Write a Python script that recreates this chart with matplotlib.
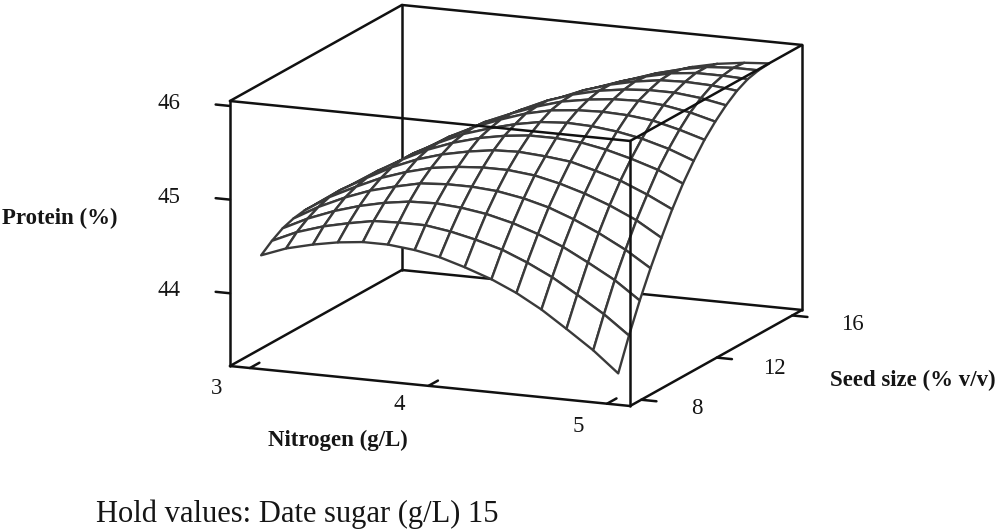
import numpy as np
import matplotlib
matplotlib.use("Agg")
import matplotlib.pyplot as plt

plt.rcParams['font.family'] = ['Liberation Serif', 'DejaVu Serif']

nitrogen = [3.00, 3.14, 3.29, 3.43, 3.57, 3.71, 3.86, 4.00, 4.14, 4.29, 4.43, 4.57, 4.71, 4.86, 5.00]
seed = [8.00, 8.57, 9.14, 9.71, 10.29, 10.86, 11.43, 12.00, 12.57, 13.14, 13.71, 14.29, 14.86, 15.43, 16.00]
# rows go with seed, columns with nitrogen
protein = [
    [44.36, 44.46, 44.53, 44.58, 44.61, 44.61, 44.58, 44.53, 44.45, 44.35, 44.23, 44.08, 43.90, 43.70, 43.48],
    [44.45, 44.57, 44.66, 44.72, 44.77, 44.78, 44.78, 44.74, 44.68, 44.60, 44.49, 44.36, 44.20, 44.02, 43.82],
    [44.52, 44.65, 44.76, 44.84, 44.90, 44.94, 44.95, 44.93, 44.89, 44.82, 44.73, 44.62, 44.48, 44.32, 44.13],
    [44.56, 44.71, 44.84, 44.94, 45.01, 45.07, 45.09, 45.09, 45.07, 45.02, 44.95, 44.85, 44.73, 44.58, 44.41],
    [44.58, 44.75, 44.89, 45.01, 45.10, 45.17, 45.21, 45.23, 45.23, 45.20, 45.14, 45.06, 44.96, 44.83, 44.67],
    [44.58, 44.76, 44.92, 45.06, 45.17, 45.25, 45.31, 45.35, 45.36, 45.34, 45.31, 45.24, 45.16, 45.04, 44.91],
    [44.55, 44.75, 44.93, 45.08, 45.21, 45.31, 45.39, 45.44, 45.47, 45.47, 45.45, 45.40, 45.33, 45.24, 45.12],
    [44.51, 44.72, 44.91, 45.08, 45.22, 45.34, 45.43, 45.50, 45.55, 45.57, 45.56, 45.53, 45.48, 45.40, 45.30],
    [44.44, 44.67, 44.88, 45.06, 45.22, 45.35, 45.46, 45.55, 45.61, 45.64, 45.65, 45.64, 45.61, 45.54, 45.46],
    [44.34, 44.59, 44.81, 45.01, 45.19, 45.34, 45.46, 45.56, 45.64, 45.69, 45.72, 45.73, 45.71, 45.66, 45.59],
    [44.23, 44.49, 44.73, 44.94, 45.13, 45.30, 45.44, 45.56, 45.65, 45.72, 45.76, 45.78, 45.78, 45.75, 45.70],
    [44.09, 44.37, 44.62, 44.85, 45.05, 45.23, 45.39, 45.52, 45.63, 45.72, 45.78, 45.82, 45.83, 45.82, 45.79],
    [43.93, 44.22, 44.49, 44.73, 44.95, 45.15, 45.32, 45.47, 45.59, 45.69, 45.77, 45.83, 45.86, 45.86, 45.85],
    [43.74, 44.05, 44.33, 44.59, 44.82, 45.03, 45.22, 45.39, 45.53, 45.65, 45.74, 45.81, 45.86, 45.88, 45.88],
    [43.53, 43.85, 44.15, 44.42, 44.67, 44.90, 45.10, 45.28, 45.44, 45.57, 45.68, 45.77, 45.83, 45.87, 45.89],
]
protein_ticks = [44, 45, 46]
nitrogen_ticks = [3, 4, 5]
seed_ticks = [8, 12, 16]

fig = plt.figure(figsize=(10, 5.3), dpi=100)
ax = fig.add_axes([0.0025, -189/530, 1, 1000/530], projection='3d', proj_type='ortho', computed_zorder=False)
ax.view_init(elev=13.66, azim=-67.07)
ax.set_box_aspect((434.4, 441.4, 272.7), zoom=0.657)
ax.set_axis_off()
xlo, xhi = 2.888, 5.129
ylo, yhi = 7.408, 16.52
zlo, zhi = 43.223, 46.053
ax.set_xlim(xlo, xhi)
ax.set_ylim(ylo, yhi)
ax.set_zlim(zlo, zhi)

def edge(a, b, z):
    ax.plot([a[0], b[0]], [a[1], b[1]], [a[2], b[2]], color='#111111', lw=1.8, zorder=z, solid_capstyle='round')

# box lines behind the surface
edge((xlo, yhi, zlo), (xlo, ylo, zlo), 1)
edge((xlo, yhi, zlo), (xhi, yhi, zlo), 1)
edge((xlo, yhi, zlo), (xlo, yhi, zhi), 1)

X, Y = np.meshgrid(nitrogen, seed)
ax.plot_surface(X, Y, np.array(protein), rstride=1, cstride=1, color='white', edgecolor='#3a3a3a',
                linewidth=1.7, shade=False, zorder=2)

# box lines in front of it
for a, b in [((xlo, ylo, zlo), (xhi, ylo, zlo)), ((xhi, ylo, zlo), (xhi, yhi, zlo)),
             ((xlo, ylo, zlo), (xlo, ylo, zhi)), ((xhi, ylo, zlo), (xhi, ylo, zhi)),
             ((xhi, yhi, zlo), (xhi, yhi, zhi)), ((xlo, ylo, zhi), (xhi, ylo, zhi)),
             ((xhi, ylo, zhi), (xhi, yhi, zhi)), ((xhi, yhi, zhi), (xlo, yhi, zhi)),
             ((xlo, yhi, zhi), (xlo, ylo, zhi))]:
    edge(a, b, 3)

for v in protein_ticks:
    edge((xlo, ylo, v), (xlo - 0.08, ylo, v), 3)
for v in nitrogen_ticks:
    edge((v, ylo, zlo), (v, ylo + 0.5, zlo), 3)
for v in seed_ticks:
    edge((xhi, v, zlo), (xhi + 0.085, v, zlo), 3)

def label(px, py, txt, size=16.5, **kw):
    fig.text(px/1000, 1 - py/530, txt, ha='center', va='center', fontsize=size, color='#151515', **kw)

tick_text = ['44', '45', '46', '3', '4', '5', '8', '12', '16']
tick_px = [169, 169, 169, 217, 399, 578, 697, 774, 852]
tick_py = [290, 198, 103, 388, 405, 426, 409, 368, 324]
for t, px, py in zip(tick_text, tick_px, tick_py):
    label(px, py, t)
label(60, 218, 'Protein (%)', fontweight='bold')
label(338, 440, 'Nitrogen (g/L)', fontweight='bold')
label(913, 380, 'Seed size (% v/v)', fontweight='bold')
label(297, 514, 'Hold values: Date sugar (g/L) 15', 22)

fig.savefig('out.png', dpi=100)
